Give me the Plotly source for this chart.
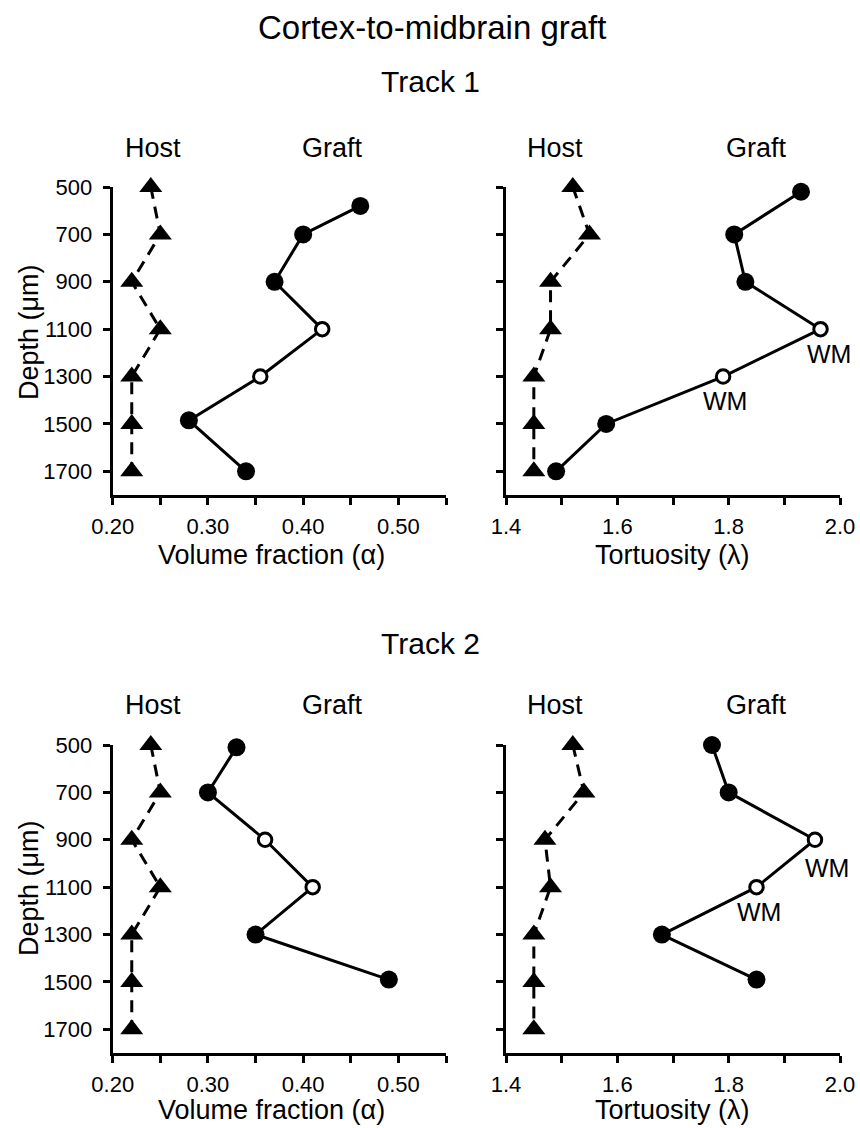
import plotly.graph_objects as go

# ---------------- data ----------------
depth_ticks = [500, 700, 900, 1100, 1300, 1500, 1700]
depth_ticktext = ["500", "700", "900", "1100", "1300", "1500", "1700"]
alpha_tickvals = [0.20, 0.25, 0.30, 0.35, 0.40, 0.45, 0.50, 0.55]
alpha_ticktext = ["0.20", "", "0.30", "", "0.40", "", "0.50", ""]
lambda_tickvals = [1.4, 1.5, 1.6, 1.7, 1.8, 1.9, 2.0]
lambda_ticktext = ["1.4", "", "1.6", "", "1.8", "", "2.0"]

# Track 1
t1_host_depth = [500, 700, 900, 1100, 1300, 1500, 1700]
t1_host_alpha = [0.24, 0.25, 0.22, 0.25, 0.22, 0.22, 0.22]
t1_host_lambda = [1.52, 1.55, 1.48, 1.48, 1.45, 1.45, 1.45]
t1_graft_alpha_depth = [580, 700, 900, 1100, 1300, 1485, 1700]
t1_graft_alpha = [0.46, 0.40, 0.37, 0.42, 0.355, 0.28, 0.34]
t1_graft_alpha_wm = [False, False, False, True, True, False, False]
t1_graft_lambda_depth = [520, 700, 900, 1100, 1300, 1500, 1700]
t1_graft_lambda = [1.93, 1.81, 1.83, 1.965, 1.79, 1.58, 1.49]
t1_graft_lambda_wm = [False, False, False, True, True, False, False]

# Track 2
t2_host_depth = [500, 700, 900, 1100, 1300, 1500, 1700]
t2_host_alpha = [0.24, 0.25, 0.22, 0.25, 0.22, 0.22, 0.22]
t2_host_lambda = [1.52, 1.54, 1.47, 1.48, 1.45, 1.45, 1.45]
t2_graft_alpha_depth = [510, 700, 900, 1100, 1300, 1490]
t2_graft_alpha = [0.33, 0.30, 0.36, 0.41, 0.35, 0.49]
t2_graft_alpha_wm = [False, False, True, True, False, False]
t2_graft_lambda_depth = [500, 700, 900, 1100, 1300, 1490]
t2_graft_lambda = [1.77, 1.80, 1.955, 1.85, 1.68, 1.85]
t2_graft_lambda_wm = [False, False, True, True, False, False]

# ---------------- figure ----------------
W, H = 860, 1128
FONT = "Liberation Sans, Arial, Helvetica, sans-serif"
BLACK = "#000000"

fig = go.Figure()


def add_host(x, y, xa, ya):
    fig.add_trace(go.Scatter(
        x=x, y=y, xaxis=xa, yaxis=ya, mode="lines+markers",
        line=dict(color=BLACK, width=3, dash="12px,8px"),
        marker=dict(symbol="triangle-up", size=20, color=BLACK, line=dict(width=0)),
        showlegend=False, cliponaxis=False, hoverinfo="skip",
    ))


def add_graft(x, y, wm, xa, ya):
    fig.add_trace(go.Scatter(
        x=x, y=y, xaxis=xa, yaxis=ya, mode="lines",
        line=dict(color=BLACK, width=3),
        showlegend=False, cliponaxis=False, hoverinfo="skip",
    ))
    fx = [a for a, w in zip(x, wm) if not w]
    fy = [b for b, w in zip(y, wm) if not w]
    ox = [a for a, w in zip(x, wm) if w]
    oy = [b for b, w in zip(y, wm) if w]
    fig.add_trace(go.Scatter(
        x=fx, y=fy, xaxis=xa, yaxis=ya, mode="markers",
        marker=dict(symbol="circle", size=18, color=BLACK, line=dict(width=0)),
        showlegend=False, cliponaxis=False, hoverinfo="skip",
    ))
    fig.add_trace(go.Scatter(
        x=ox, y=oy, xaxis=xa, yaxis=ya, mode="markers",
        marker=dict(symbol="circle", size=13.5, color="#ffffff",
                    line=dict(color=BLACK, width=3)),
        showlegend=False, cliponaxis=False, hoverinfo="skip",
    ))


add_host(t1_host_alpha, t1_host_depth, "x", "y")
add_graft(t1_graft_alpha, t1_graft_alpha_depth, t1_graft_alpha_wm, "x", "y")
add_host(t1_host_lambda, t1_host_depth, "x2", "y2")
add_graft(t1_graft_lambda, t1_graft_lambda_depth, t1_graft_lambda_wm, "x2", "y2")
add_host(t2_host_alpha, t2_host_depth, "x3", "y3")
add_graft(t2_graft_alpha, t2_graft_alpha_depth, t2_graft_alpha_wm, "x3", "y3")
add_host(t2_host_lambda, t2_host_depth, "x4", "y4")
add_graft(t2_graft_lambda, t2_graft_lambda_depth, t2_graft_lambda_wm, "x4", "y4")


def px_x(p):
    return p / W


def px_y(p):
    return 1 - p / H


left_dom = [px_x(112.7), px_x(446)]
right_dom = [px_x(506), px_x(840)]
top_dom = [px_y(495), px_y(187)]
bot_dom = [px_y(1053), px_y(745)]

axis_common = dict(
    showline=True, linewidth=3, linecolor=BLACK, mirror=False,
    ticks="outside", ticklen=7, tickwidth=3, tickcolor=BLACK,
    showgrid=False, zeroline=False, fixedrange=True, automargin=False,
    tickfont=dict(family=FONT, size=22, color=BLACK),
)


def xa_alpha(anchor, dom):
    return dict(axis_common, domain=dom, anchor=anchor, range=[0.2, 0.55],
                tickmode="array", tickvals=alpha_tickvals, ticktext=alpha_ticktext,
                ticklabelstandoff=3)


def xa_lambda(anchor, dom):
    return dict(axis_common, domain=dom, anchor=anchor, range=[1.4, 2.0],
                tickmode="array", tickvals=lambda_tickvals, ticktext=lambda_ticktext,
                ticklabelstandoff=3)


def ya(anchor, dom, labels):
    return dict(axis_common, domain=dom, anchor=anchor, range=[1800, 500],
                tickmode="array", tickvals=depth_ticks, ticktext=depth_ticktext,
                showticklabels=labels, ticklabelstandoff=6)


fig.update_layout(
    template="none",
    width=W, height=H,
    margin=dict(l=0, r=0, t=0, b=0, pad=0),
    paper_bgcolor="white", plot_bgcolor="white",
    font=dict(family=FONT, color=BLACK),
    xaxis=xa_alpha("y", left_dom),
    yaxis=ya("x", top_dom, True),
    xaxis2=xa_lambda("y2", right_dom),
    yaxis2=ya("x2", top_dom, False),
    xaxis3=xa_alpha("y3", left_dom),
    yaxis3=ya("x3", bot_dom, True),
    xaxis4=xa_lambda("y4", right_dom),
    yaxis4=ya("x4", bot_dom, False),
)

ann = []


def text(s, x, y, size, angle=0):
    ann.append(dict(text=s, x=px_x(x), y=px_y(y), xref="paper", yref="paper",
                    xanchor="center", yanchor="middle", showarrow=False,
                    textangle=angle, font=dict(family=FONT, size=size, color=BLACK)))


text("Cortex-to-midbrain graft", 432, 28, 33)
text("Track 1", 430, 82, 30)
text("Track 2", 430, 643, 30)
for yy in (148, 705):
    text("Host", 153, yy, 27)
    text("Graft", 332, yy, 27)
    text("Host", 555, yy, 27)
    text("Graft", 756, yy, 27)
text("Volume fraction (\u03b1)", 271, 555, 27)
text("Tortuosity (\u03bb)", 672, 555, 27)
text("Volume fraction (\u03b1)", 271, 1110, 27)
text("Tortuosity (\u03bb)", 672, 1110, 27)
text("Depth (\u03bcm)", 29, 332, 27, -90)
text("Depth (\u03bcm)", 29, 888, 27, -90)


def wm(x, y, xa, ya_, dx, dy):
    ann.append(dict(text="WM", x=x, y=y, xref=xa, yref=ya_, showarrow=False,
                    xshift=dx, yshift=-dy, xanchor="center", yanchor="middle",
                    font=dict(family=FONT, size=25, color=BLACK)))


wm_points = [
    (t1_graft_lambda[3], t1_graft_lambda_depth[3], "x2", "y2", 8, 25),
    (t1_graft_lambda[4], t1_graft_lambda_depth[4], "x2", "y2", 2, 24),
    (t2_graft_lambda[2], t2_graft_lambda_depth[2], "x4", "y4", 12, 28),
    (t2_graft_lambda[3], t2_graft_lambda_depth[3], "x4", "y4", 2, 25),
]
for p in wm_points:
    wm(*p)

fig.update_layout(annotations=ann)
fig.write_html("out.html")
